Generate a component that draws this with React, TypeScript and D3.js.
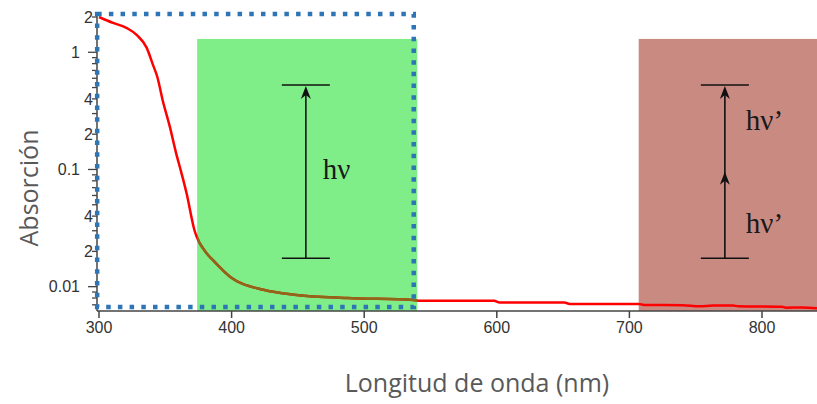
import React from "react";
import * as d3 from "d3";

// absorption spectrum (nm, absorbance)
const wavelengths = [300, 310.6, 321, 328.6, 336, 340.7, 344, 348, 353.5, 358, 362, 366, 372, 381, 386, 399, 424, 449, 487, 537, 542, 598, 602, 651, 655, 707, 711, 740, 753, 763, 778, 782, 815, 818, 830, 845];
const absorbance = [2.0, 1.78, 1.61, 1.4, 1.09, 0.78, 0.615, 0.39, 0.23, 0.14, 0.095, 0.063, 0.0303, 0.0194, 0.0168, 0.0121, 0.0094, 0.0085, 0.008, 0.0077, 0.00757, 0.00757, 0.00732, 0.00732, 0.00713, 0.00713, 0.00699, 0.00695, 0.00681, 0.0069, 0.0069, 0.00681, 0.00675, 0.00662, 0.00665, 0.0065];

const xTicks = [300, 400, 500, 600, 700, 800];
const yLabelValues = [2, 1, 0.4, 0.2, 0.1, 0.04, 0.02, 0.01];
const yLabelTexts = ["2", "1", "4", "2", "0.1", "4", "2", "0.01"];

// highlighted bands (nm) and their top (absorbance)
const greenBand = [374, 540];
const redBand = [707, 845];
const bandTop = 1.3;
const zoomBox = [299, 540];

const W = 817;
const H = 404;

const App = () => {
  const x = d3.scaleLinear().domain([300, 800]).range([99, 762]);
  const y = d3.scaleLog().domain([0.0062, 2]).range([311, 17]);
  const x0 = 97;
  const yBase = 311;

  const pts = wavelengths.map((w, i) => [w, absorbance[i]] as [number, number]);
  const line = d3.line<[number, number]>()
    .x(d => x(d[0]))
    .y(d => y(d[1]))
    .curve(d3.curveMonotoneX);
  const path = line(pts) || "";

  const yTicks = y.ticks();
  const isMajor = (v: number) => Math.abs(Math.log10(v) - Math.round(Math.log10(v))) < 1e-6;

  // arrows
  const ax1 = x(456);
  const ax2 = x(772);
  const aTop = y(0.526);
  const aBot = y(0.01746);
  const aMid = y(0.0957);
  const head = (cx: number, tip: number) =>
    `M${cx},${tip} L${cx - 5},${tip + 13} L${cx},${tip + 9} L${cx + 5},${tip + 13} Z`;

  const tickFont = "Liberation Sans, Arial, sans-serif";
  const serif = "Liberation Serif, Times New Roman, serif";

  return (
    <svg width={W} height={H} style={{ position: "absolute", left: 0, top: 0, background: "#fff" }}>
      <defs>
        <clipPath id="greenClip">
          <rect x={x(greenBand[0])} y={y(bandTop)} width={x(greenBand[1]) - x(greenBand[0])} height={yBase - y(bandTop)} />
        </clipPath>
        <clipPath id="plotClip">
          <rect x={x0} y={0} width={W - x0} height={yBase} />
        </clipPath>
      </defs>

      <rect x={x(greenBand[0])} y={y(bandTop)} width={x(greenBand[1]) - x(greenBand[0])} height={yBase - y(bandTop)} fill="#80ee88" />
      <rect x={x(redBand[0])} y={y(bandTop)} width={x(redBand[1]) - x(redBand[0])} height={yBase - y(bandTop)} fill="#c98a82" />

      <g clipPath="url(#plotClip)">
        <path d={path} fill="none" stroke="#ff0000" strokeWidth={2.5} />
        <path d={path} fill="none" stroke="#8c6818" strokeWidth={2.5} clipPath="url(#greenClip)" />
      </g>

      {/* axes */}
      <line x1={x0} x2={W} y1={yBase} y2={yBase} stroke="#444" strokeWidth={1.5} />
      <line x1={x0} x2={x0} y1={14} y2={yBase} stroke="#444" strokeWidth={1.5} />
      {xTicks.map(t => (
        <g key={t}>
          <line x1={x(t)} x2={x(t)} y1={yBase} y2={yBase + 7} stroke="#444" strokeWidth={1.5} />
          <text x={x(t)} y={yBase + 22} textAnchor="middle" fontFamily={tickFont} fontSize={16} fill="#333">{t}</text>
        </g>
      ))}
      {yTicks.map((t, i) => (
        <line key={i} x1={x0 - (isMajor(t) ? 9 : 5)} x2={x0} y1={y(t)} y2={y(t)} stroke="#444" strokeWidth={1.3} />
      ))}
      {yLabelValues.map((v, i) => (
        <text key={i} x={isMajor(v) ? 80 : 93} y={y(v)} dy="0.35em" textAnchor="end"
          fontFamily={tickFont} fontSize={16} fill="#333">{yLabelTexts[i]}</text>
      ))}

      {/* dotted zoom box */}
      <rect x={x(zoomBox[0]) - 0.5} y={14} width={x(zoomBox[1]) - x(zoomBox[0]) - 3} height={293} fill="none"
        stroke="#2e75b6" strokeWidth={4.5} strokeDasharray="4.5 7.2" />

      {/* photon arrows */}
      <g stroke="#111" strokeWidth={1.6}>
        <line x1={ax1} x2={ax1} y1={aTop + 4} y2={aBot} />
        <line x1={ax1 - 24} x2={ax1 + 24} y1={aTop} y2={aTop} />
        <line x1={ax1 - 24} x2={ax1 + 24} y1={aBot} y2={aBot} />
        <line x1={ax2} x2={ax2} y1={aTop + 4} y2={aBot} />
        <line x1={ax2 - 24} x2={ax2 + 24} y1={aTop} y2={aTop} />
        <line x1={ax2 - 24} x2={ax2 + 24} y1={aBot} y2={aBot} />
      </g>
      <path d={head(ax1, aTop + 1)} fill="#111" />
      <path d={head(ax2, aTop + 1)} fill="#111" />
      <path d={head(ax2, aMid)} fill="#111" />
      <text x={ax1 + 17} y={179} fontFamily={serif} fontSize={29} fill="#1a1a1a">hν</text>
      <text x={ax2 + 21} y={130} fontFamily={serif} fontSize={29} fill="#1a1a1a">hν’</text>
      <text x={ax2 + 21} y={233} fontFamily={serif} fontSize={29} fill="#1a1a1a">hν’</text>

      {/* axis titles */}
      <text x={477} y={392} textAnchor="middle" fontFamily="Open Sans, sans-serif" fontSize={25} fill="#595959">Longitud de onda (nm)</text>
      <text transform={`translate(38,188) rotate(-90)`} textAnchor="middle" fontFamily="Open Sans, sans-serif" fontSize={25} fill="#595959">Absorción</text>
    </svg>
  );
};

export default App;
